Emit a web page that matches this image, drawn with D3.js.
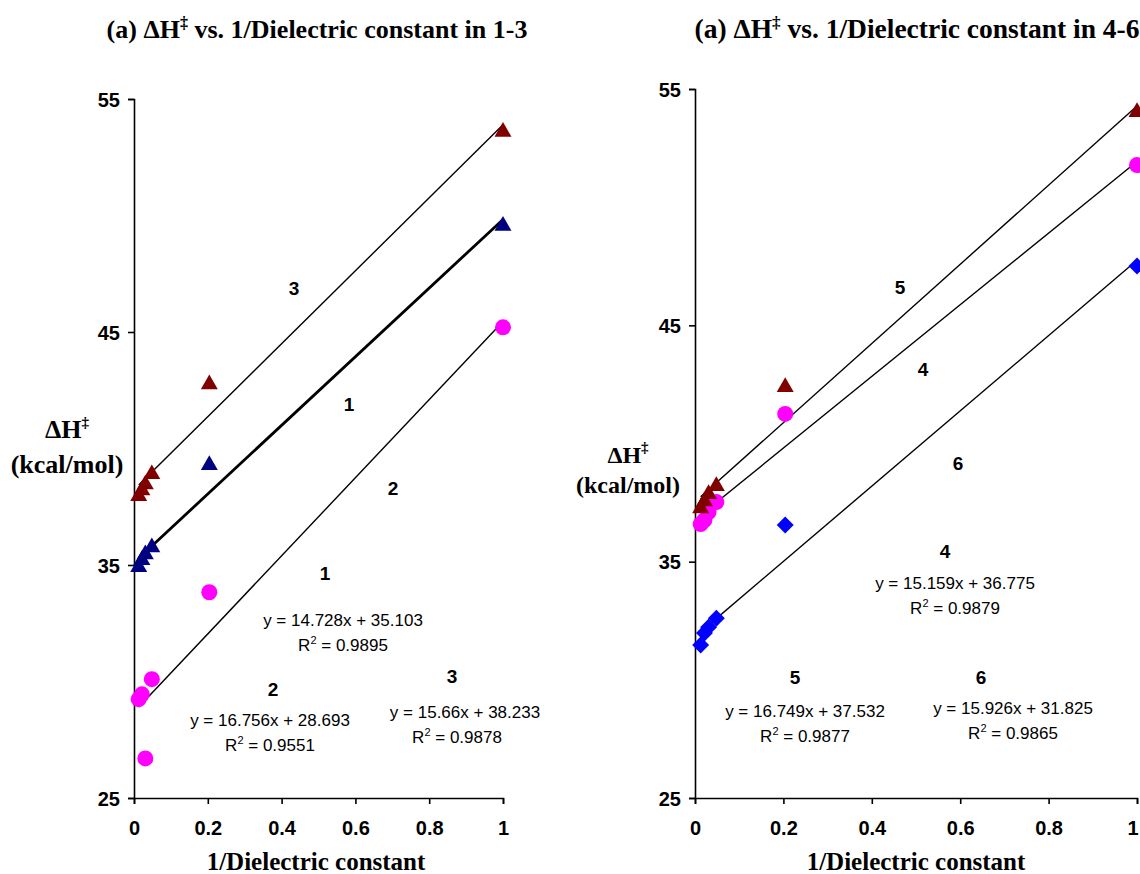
<!DOCTYPE html>
<html lang="en">
<head>
<meta charset="utf-8">
<title>Delta H vs 1/Dielectric constant</title>
<script src="https://d3js.org/d3.v7.min.js"></script>
<style>
  body { margin: 0; background: #fff; }
  svg { display: block; }
</style>
</head>
<body>
<script>
// 1/dielectric constant values shared by all series
const xVals = [0.0128, 0.0214, 0.0307, 0.0483, 0.2041, 1.0];

// left panel, series 1-3 (kcal/mol)
const s1 = [34.95, 35.25, 35.5, 35.8, 39.33, 49.6];
const s2 = [29.24, 29.45, 26.7, 30.1, 33.83, 45.2];
const s3 = [38.0, 38.25, 38.5, 38.94, 42.8, 53.63];

// right panel, series 4-6
const s4 = [36.59, 36.76, 37.1, 37.52, 41.25, 51.78];
const s5 = [37.3, 37.6, 37.9, 38.24, 42.43, 54.07];
const s6 = [31.47, 31.98, 32.23, 32.61, 36.55, 47.51];

// trendlines: [slope, intercept, r2]
const fit1 = [14.728, 35.103, "0.9895"];
const fit2 = [16.756, 28.693, "0.9551"];
const fit3 = [15.66, 38.233, "0.9878"];
const fit4 = [15.159, 36.775, "0.9879"];
const fit5 = [16.749, 37.532, "0.9877"];
const fit6 = [15.926, 31.825, "0.9865"];

const xTicks = [0, 0.2, 0.4, 0.6, 0.8, 1];
const yTicks = [25, 35, 45, 55];

const W = 1140, H = 874;
const svg = d3.select("body").append("svg").attr("width", W).attr("height", H);

const serif = "'Liberation Serif', 'Times New Roman', serif";
const sans = "'Liberation Sans', Arial, sans-serif";

function triangle(g, x, y, color) {
  g.append("path").attr("d", d3.symbol().type(d3.symbolTriangle).size(125)())
    .attr("transform", "translate(" + x + "," + (y + 1) + ")")
    .attr("fill", color);
}
function circle(g, x, y, color) {
  g.append("circle").attr("cx", x).attr("cy", y).attr("r", 8).attr("fill", color);
}
function diamond(g, x, y, color) {
  g.append("rect").attr("x", -6).attr("y", -6).attr("width", 12).attr("height", 12)
    .attr("transform", "translate(" + x + "," + y + ") rotate(45)")
    .attr("fill", color);
}

function panel(opt) {
  const x = d3.scaleLinear().domain([0, 1]).range([opt.x0, opt.x1]);
  const y = d3.scaleLinear().domain([25, 55]).range([opt.y0, opt.y1]);
  const g = svg.append("g");

  // title
  const t = g.append("text").attr("x", opt.titleX).attr("y", 38)
    .attr("text-anchor", "middle").attr("font-family", serif)
    .attr("font-weight", "bold").attr("font-size", opt.titleSize + "px");
  t.append("tspan").text("(a) \u0394H");
  t.append("tspan").text("\u2021").attr("font-size", (opt.titleSize * 0.62) + "px").attr("dy", -10);
  t.append("tspan").text(" vs. 1/Dielectric constant in " + opt.range).attr("dy", 10);

  // axes
  const xa = g.append("g").attr("transform", "translate(0," + opt.y0 + ")")
    .call(d3.axisBottom(x).tickValues(xTicks).tickSize(6).tickFormat(d3.format("")));
  const ya = g.append("g").attr("transform", "translate(" + opt.x0 + ",0)")
    .call(d3.axisLeft(y).tickValues(yTicks).tickSize(6));
  [xa, ya].forEach(a => {
    a.select(".domain").attr("stroke", "#000").attr("stroke-width", 1.6);
    a.selectAll(".tick line").attr("stroke", "#000").attr("stroke-width", 1.6);
    a.selectAll("text").attr("font-family", sans).attr("font-weight", "bold")
      .attr("font-size", "20px").attr("fill", "#000");
  });
  xa.selectAll("text").attr("y", 37).attr("dy", 0);
  // keep the last label inside the page edge
  xa.selectAll("text").filter(d => x(d) > W - 8).attr("text-anchor", "end").attr("x", W - 2 - x(1));
  ya.selectAll("text").attr("x", -14).attr("dy", "0.36em");

  // axis titles
  g.append("text").text("1/Dielectric constant").attr("x", opt.xtX)
    .attr("y", 870).attr("text-anchor", "middle").attr("font-family", serif)
    .attr("font-weight", "bold").attr("font-size", "25px");
  const yl = g.append("text").attr("x", opt.ylX).attr("y", opt.ylY)
    .attr("text-anchor", "middle").attr("font-family", serif)
    .attr("font-weight", "bold").attr("font-size", opt.ylSize + "px");
  yl.append("tspan").text("\u0394H");
  yl.append("tspan").text("\u2021").attr("font-size", "15px").attr("dy", -11);
  g.append("text").text("(kcal/mol)").attr("x", opt.ylX).attr("y", opt.ylY + opt.ylGap)
    .attr("text-anchor", "middle").attr("font-family", serif)
    .attr("font-weight", "bold").attr("font-size", opt.ylSize + "px");

  // trendlines
  opt.series.forEach(s => {
    const lo = d3.min(xVals), hi = d3.max(xVals);
    g.append("line")
      .attr("x1", x(lo)).attr("y1", y(s.fit[0] * lo + s.fit[1]))
      .attr("x2", x(hi)).attr("y2", y(s.fit[0] * hi + s.fit[1]))
      .attr("stroke", "#000").attr("stroke-width", s.thick ? 2.8 : 1.4);
  });
  // points
  opt.series.forEach(s => {
    xVals.forEach((xv, i) => s.mark(g, x(xv), y(s.vals[i]), s.color));
  });

  // series number labels
  opt.labels.forEach(l => {
    g.append("text").text(l.t).attr("x", l.x).attr("y", l.y + 7)
      .attr("text-anchor", "middle").attr("font-family", sans)
      .attr("font-weight", "bold").attr("font-size", "19px");
  });
  // equations
  opt.eqs.forEach(e => {
    g.append("text").text("y = " + e.fit[0] + "x + " + e.fit[1]).attr("x", e.x).attr("y", e.y)
      .attr("text-anchor", "middle").attr("font-family", sans).attr("font-size", "17px");
    const r = g.append("text").attr("x", e.rx).attr("y", e.y + 25)
      .attr("text-anchor", "middle").attr("font-family", sans).attr("font-size", "17px");
    r.append("tspan").text("R");
    r.append("tspan").text("2").attr("font-size", "11px").attr("dy", -7);
    r.append("tspan").text(" = " + e.fit[2]).attr("dy", 7);
  });
}

panel({
  x0: 134, x1: 503, y0: 798, y1: 99, titleX: 317, titleSize: 26, range: "1-3", xtX: 316,
  ylX: 67, ylY: 438, ylGap: 35, ylSize: 26,
  series: [
    { vals: s3, fit: fit3, color: "#800000", mark: triangle },
    { vals: s1, fit: fit1, color: "#000080", mark: triangle, thick: true },
    { vals: s2, fit: fit2, color: "#ff00ff", mark: circle }
  ],
  labels: [
    { t: "3", x: 294, y: 288 }, { t: "1", x: 349, y: 404 }, { t: "2", x: 393, y: 488 },
    { t: "1", x: 325, y: 573 }, { t: "2", x: 273, y: 689 }, { t: "3", x: 452, y: 676 }
  ],
  eqs: [
    { fit: fit1, x: 343, rx: 343, y: 626 },
    { fit: fit2, x: 270, rx: 270, y: 726 },
    { fit: fit3, x: 465, rx: 457, y: 718 }
  ]
});

panel({
  x0: 695, x1: 1137, y0: 798, y1: 89, titleX: 917, titleSize: 27.5, range: "4-6", xtX: 916,
  ylX: 628, ylY: 463, ylGap: 30, ylSize: 24,
  series: [
    { vals: s4, fit: fit4, color: "#ff00ff", mark: circle },
    { vals: s6, fit: fit6, color: "#0000ff", mark: diamond },
    { vals: s5, fit: fit5, color: "#800000", mark: triangle }
  ],
  labels: [
    { t: "5", x: 900, y: 287 }, { t: "4", x: 923, y: 369 }, { t: "6", x: 958, y: 463 },
    { t: "4", x: 945, y: 551 }, { t: "5", x: 795, y: 677 }, { t: "6", x: 981, y: 677 }
  ],
  eqs: [
    { fit: fit4, x: 955, rx: 955, y: 589 },
    { fit: fit5, x: 805, rx: 805, y: 717 },
    { fit: fit6, x: 1013, rx: 1013, y: 714 }
  ]
});
</script>
</body>
</html>
